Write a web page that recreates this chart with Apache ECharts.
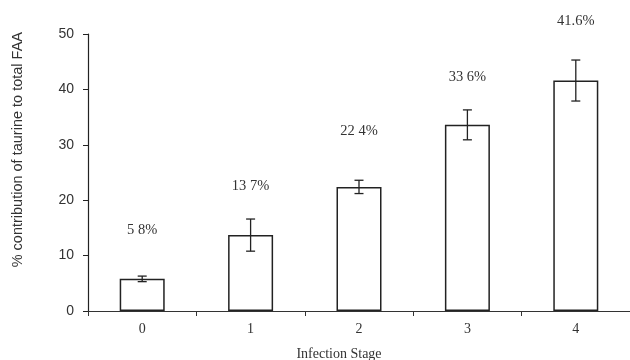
<!DOCTYPE html>
<html><head><meta charset="utf-8">
<script src="https://cdn.jsdelivr.net/npm/echarts@6/dist/echarts.min.js"></script>
<style>html,body{margin:0;padding:0;background:#fff}#c{width:630px;height:360px}</style>
</head><body><div id="c"></div>
<script>
const categories = ['0', '1', '2', '3', '4'];
const values = [5.8, 13.7, 22.4, 33.6, 41.6];
const errors = [0.5, 2.9, 1.2, 2.7, 3.7];
const labels = ['5 8%', '13 7%', '22 4%', '33 6%', '41.6%'];
const yTicks = [0, 10, 20, 30, 40, 50];

const labelGaps = [41, 41, 48, 40, 52];
const chart = echarts.init(document.getElementById('c'), null, {renderer: 'canvas'});
const errData = values.map((v, i) => [i, v - errors[i], v + errors[i]]);
chart.setOption({
  animation: false,
  backgroundColor: '#fff',
  grid: {left: 88, right: 0, top: 34, bottom: 49, outerBoundsMode: 'none', containLabel: false},
  graphic: [{
    type: 'text', left: 10, top: 32, rotation: Math.PI / 2,
    style: {text: '% contribution of taurine to total FAA', fontFamily: 'Liberation Sans', fontSize: 14.5, fill: '#333'}
  }],
  xAxis: {
    type: 'category', data: categories,
    name: 'Infection Stage', nameLocation: 'middle', nameGap: 36,
    nameTextStyle: {fontFamily: 'Liberation Serif', fontSize: 14, color: '#333', padding: [0, 40, 0, 0]},
    axisLine: {lineStyle: {color: '#333', width: 1.2}},
    axisTick: {show: true, length: 5, lineStyle: {color: '#333'}},
    axisLabel: {fontFamily: 'Liberation Serif', fontSize: 14, color: '#333', margin: 11}
  },
  yAxis: {
    type: 'value', min: yTicks[0], max: yTicks[yTicks.length - 1], interval: 10,
    axisLine: {show: true, lineStyle: {color: '#222', width: 1.2}},
    axisTick: {show: true, length: 5, lineStyle: {color: '#222'}},
    axisLabel: {fontFamily: 'Liberation Sans', fontSize: 14, color: '#333', margin: 14},
    splitLine: {show: false}
  },
  series: [
    {
      type: 'bar',
      data: values.map((v, i) => ({value: v, label: {distance: labelGaps[i]}})),
      barWidth: 45,
      itemStyle: {color: '#fff', borderColor: '#222', borderWidth: 1.5},
      label: {
        show: true, position: 'top',
        formatter: p => labels[p.dataIndex],
        fontFamily: 'Liberation Serif', fontSize: 14.5, color: '#333'
      }
    },
    {
      type: 'custom', data: errData, z: 10,
      renderItem: (params, api) => {
        const x = api.value(0);
        const lo = api.coord([x, api.value(1)]);
        const hi = api.coord([x, api.value(2)]);
        const w = 4.5;
        const style = {stroke: '#222', lineWidth: 1.3, fill: null};
        return {type: 'group', children: [
          {type: 'line', shape: {x1: lo[0], y1: lo[1], x2: hi[0], y2: hi[1]}, style},
          {type: 'line', shape: {x1: lo[0] - w, y1: lo[1], x2: lo[0] + w, y2: lo[1]}, style},
          {type: 'line', shape: {x1: hi[0] - w, y1: hi[1], x2: hi[0] + w, y2: hi[1]}, style}
        ]};
      }
    }
  ]
});
</script></body></html>
